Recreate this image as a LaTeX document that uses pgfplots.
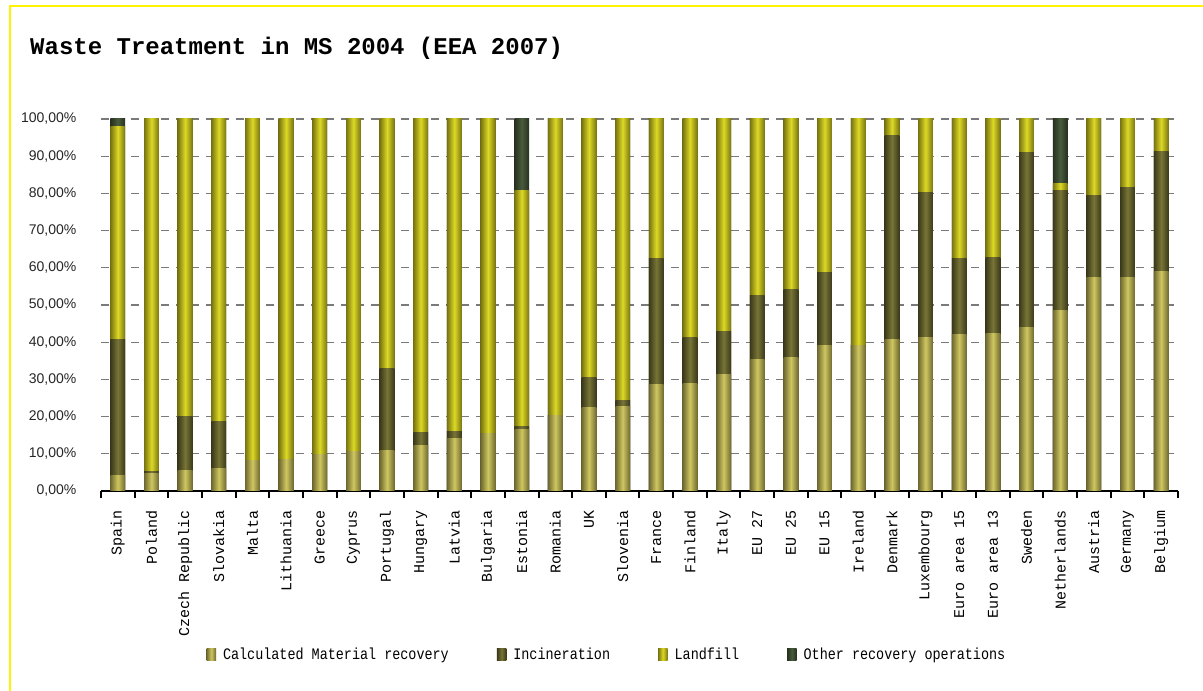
\documentclass[border=0pt]{standalone}
\usepackage{pgfplots}
\pgfplotsset{compat=1.18}
\usepackage{pgfplotstable}
\usepackage{fontspec}
\setmainfont{Liberation Mono}
\newfontfamily\legfont[FakeStretch=0.84]{Liberation Mono}
\newfontfamily\numfont{Liberation Sans}

\definecolor{matM}{HTML}{CFC760}
\definecolor{matE}{HTML}{6E6830}
\definecolor{incM}{HTML}{787536}
\definecolor{incE}{HTML}{3A381A}
\definecolor{lanM}{HTML}{DDD926}
\definecolor{lanE}{HTML}{787410}
\definecolor{othM}{HTML}{485C3C}
\definecolor{othE}{HTML}{26301E}
\definecolor{gridgray}{HTML}{7A7A7A}

\tikzset{
  matsty/.style={draw=none, left color=matE, right color=matE, middle color=matM},
  incsty/.style={draw=none, left color=incE, right color=incE, middle color=incM},
  lansty/.style={draw=none, left color=lanE, right color=lanE, middle color=lanM},
  othsty/.style={draw=none, left color=othE, right color=othE, middle color=othM},
}

\pgfplotstableread{
idx mat inc lan oth
0 4.3 36.3 57.3 2.1
1 4.7 0.5 94.8 0
2 5.5 14.5 80.0 0
3 6.0 12.6 81.4 0
4 8.2 0 91.8 0
5 8.4 0 91.6 0
6 9.7 0 90.3 0
7 10.6 0 89.4 0
8 10.8 22.1 67.1 0
9 12.2 3.5 84.3 0
10 14.1 2.0 83.9 0
11 15.4 0 84.6 0
12 16.5 0.8 63.4 19.3
13 20.3 0 79.7 0
14 22.4 8.1 69.5 0
15 22.7 1.5 75.8 0
16 28.6 33.8 37.6 0
17 28.9 12.3 58.8 0
18 31.3 11.5 57.2 0
19 35.3 17.2 47.5 0
20 35.8 18.3 45.9 0
21 39.1 19.6 41.3 0
22 39.1 0 60.9 0
23 40.7 54.8 4.5 0
24 41.2 39.0 19.8 0
25 42.0 20.4 37.6 0
26 42.3 20.4 37.3 0
27 43.9 47.0 9.1 0
28 48.5 32.4 1.7 17.4
29 57.3 22.1 20.6 0
30 57.3 24.4 18.3 0
31 59.0 32.2 8.8 0
}\wastedata

\begin{document}
\begin{tikzpicture}
\useasboundingbox (0,0) rectangle (1203bp,691bp);
\fill[white] (0,0) rectangle (1203bp,691bp);
\draw[yellow, line width=2.5bp] (10bp,0) -- (10bp,685bp) -- (1203bp,685bp);
\node[anchor=base west, inner sep=0pt, font=\bfseries\fontsize{24bp}{28bp}\selectfont] at (30bp,636bp) {Waste Treatment in MS 2004 (EEA 2007)};
\begin{axis}[
  at={(101bp,200bp)}, anchor=south west,
  scale only axis, width=1077bp, height=372bp,
  bar width=14.8bp,
  xmin=-0.5, xmax=31.5, ymin=0, ymax=100,
  axis lines*=left,
  y axis line style={draw=none},
  x axis line style={black, line width=2.2bp},
  xtick={-0.5,0.5,...,31.5},
  x tick label as interval,
  xticklabels={Spain,Poland,Czech Republic,Slovakia,Malta,Lithuania,Greece,Cyprus,Portugal,Hungary,Latvia,Bulgaria,Estonia,Romania,UK,Slovenia,France,Finland,Italy,EU 27,EU 25,EU 15,Ireland,Denmark,Luxembourg,Euro area 15,Euro area 13,Sweden,Netherlands,Austria,Germany,Belgium},
  xticklabel style={rotate=90, anchor=east, inner sep=0pt, font=\fontsize{15bp}{15bp}\selectfont},
  xticklabel shift=12bp,
  tick align=outside, major tick length=7bp,
  xtick style={black, line width=2bp},
  ytick={0,10,...,100},
  yticklabels={{0,00\%},{10,00\%},{20,00\%},{30,00\%},{40,00\%},{50,00\%},{60,00\%},{70,00\%},{80,00\%},{90,00\%},{100,00\%}},
  yticklabel style={anchor=east, inner sep=0pt, text=black!85, font=\numfont\fontsize{14bp}{14bp}\selectfont},
  yticklabel shift=17.5bp,
  ytick style={draw=none},
  ymajorgrids,
  major grid style={gridgray, line width=1.3bp, dash pattern=on 8bp off 7bp},
  legend style={at={(0.0978,-0.4382)}, anchor=west, draw=none, fill=none, inner sep=0pt,
    font=\legfont\fontsize{16bp}{16bp}\selectfont,
    nodes={inner sep=0pt},
    /tikz/every odd column/.append style={column sep=7bp},
    /tikz/every even column/.append style={column sep=48bp}},
  legend columns=4,
  legend cell align=left,
  legend image code/.code={\path[#1] (0bp,-6bp) rectangle (9.5bp,6bp);},
]
\addlegendimage{matsty}\addlegendentry{Calculated Material recovery}
\addlegendimage{incsty}\addlegendentry{Incineration}
\addlegendimage{lansty}\addlegendentry{Landfill}
\addlegendimage{othsty}\addlegendentry{Other recovery operations}
\pgfplotsinvokeforeach{0,...,31}{
  \addplot[ybar, bar shift=0pt, forget plot, othsty] table[x=idx, y expr=\thisrow{mat}+\thisrow{inc}+\thisrow{lan}+\thisrow{oth}, restrict x to domain=#1:#1]{\wastedata};
  \addplot[ybar, bar shift=0pt, forget plot, lansty] table[x=idx, y expr=\thisrow{mat}+\thisrow{inc}+\thisrow{lan}, restrict x to domain=#1:#1]{\wastedata};
  \addplot[ybar, bar shift=0pt, forget plot, incsty] table[x=idx, y expr=\thisrow{mat}+\thisrow{inc}, restrict x to domain=#1:#1]{\wastedata};
  \addplot[ybar, bar shift=0pt, forget plot, matsty] table[x=idx, y=mat, restrict x to domain=#1:#1]{\wastedata};
}
\end{axis}
\end{tikzpicture}
\end{document}
